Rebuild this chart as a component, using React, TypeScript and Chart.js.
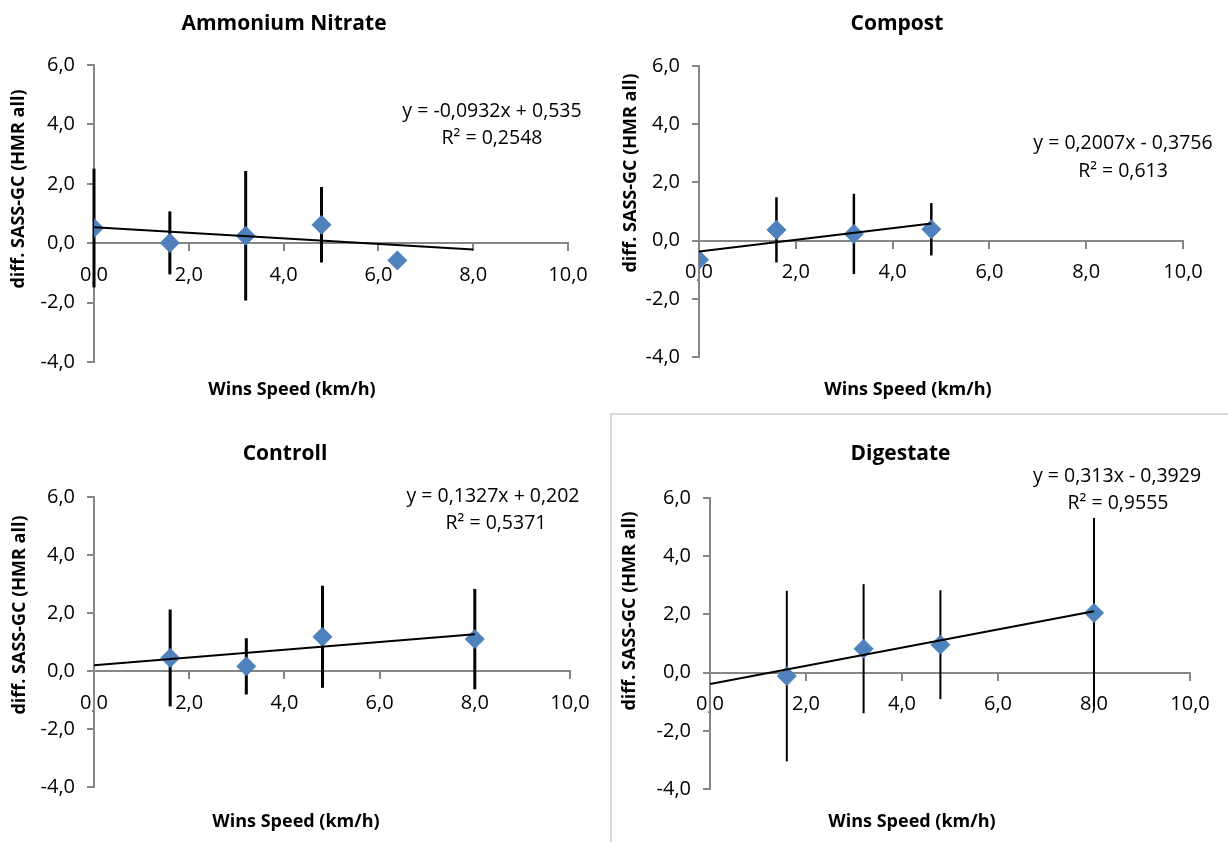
import React, { useEffect, useRef } from 'react';
import { Chart, registerables } from 'chart.js';

Chart.register(...registerables);

const FONT = '"Open Sans", "Noto Sans", sans-serif';

// ---------- data ----------
const panelTitles = ['Ammonium Nitrate', 'Compost', 'Controll', 'Digestate'];
const xAxisTitle = 'Wins Speed (km/h)';
const yAxisTitle = 'diff. SASS-GC (HMR all)';
const xTickValues = [0, 2, 4, 6, 8, 10];
const yTickValues = [-4, -2, 0, 2, 4, 6];

const windAmmonium = [0, 1.6, 3.2, 4.8, 6.4];
const diffAmmonium = [0.51, 0.01, 0.25, 0.62, -0.58];
const errAmmonium = [2.0, 1.06, 2.18, 1.27, 0];

const windCompost = [0, 1.6, 3.2, 4.8];
const diffCompost = [-0.66, 0.37, 0.23, 0.39];
const errCompost = [0, 1.12, 1.38, 0.9];

const windControll = [1.6, 3.2, 4.8, 8.0];
const diffControll = [0.45, 0.16, 1.18, 1.1];
const errControll = [1.67, 0.97, 1.76, 1.73];

const windDigestate = [1.6, 3.2, 4.8, 8.0];
const diffDigestate = [-0.12, 0.82, 0.96, 2.05];
const errDigestate = [2.93, 2.22, 1.87, 3.26];

const trendSlopes = [-0.0932, 0.2007, 0.1327, 0.313];
const trendIntercepts = [0.535, -0.3756, 0.202, -0.3929];
const trendStart = [0, 0, 0, 0];
const trendEnd = [8, 4.8, 8, 8];
const equationLabels = ['y = -0,0932x + 0,535', 'y = 0,2007x - 0,3756', 'y = 0,1327x + 0,202', 'y = 0,313x - 0,3929'];
const r2Labels = ['R² = 0,2548', 'R² = 0,613', 'R² = 0,5371', 'R² = 0,9555'];

const SERIES = [
  { x: windAmmonium, y: diffAmmonium, err: errAmmonium },
  { x: windCompost, y: diffCompost, err: errCompost },
  { x: windControll, y: diffControll, err: errControll },
  { x: windDigestate, y: diffDigestate, err: errDigestate },
];

// ---------- layout (page pixels) ----------
const LAYOUT = [
  { box: [0, 0, 611, 414], area: [94, 568, 65, 362], titleY: 24, yTitle: [18.5, 189], xTitle: [292, 390], eqX: [492, 492], eqY: [117, 144], bar: 3 },
  { box: [611, 0, 617, 414], area: [699, 1183, 66, 357], titleY: 24, yTitle: [631, 173], xTitle: [908, 390], eqX: [1123, 1123], eqY: [149, 177], bar: 2.5 },
  { box: [0, 414, 611, 428], area: [94, 570, 497, 787], titleY: 454, yTitle: [19.5, 615], xTitle: [296, 822], eqX: [493, 496], eqY: [502, 529], bar: 3 },
  { box: [611, 414, 617, 428], area: [710, 1190, 498, 789], titleY: 454, yTitle: [630, 611], xTitle: [912, 822], eqX: [1117, 1118], eqY: [482, 509], bar: 2 },
];

const fmt = (v: any) => Number(v).toFixed(1).replace('.', ',');

function Panel({ idx }: { idx: number }) {
  const ref = useRef<HTMLCanvasElement>(null);
  const L = LAYOUT[idx];
  const [bx, by, bw, bh] = L.box;

  useEffect(() => {
    const [aL, aR, aT, aB] = L.area;
    const s = SERIES[idx];
    const points = s.x.map((x, i) => ({ x, y: s.y[i] }));
    const trend = [trendStart[idx], trendEnd[idx]].map((x) => ({ x, y: trendSlopes[idx] * x + trendIntercepts[idx] }));
    const titleSize = 21;
    const titleLH = titleSize * 1.2;
    const tPadTop = L.titleY - by - titleLH / 2;
    const tPadBottom = aT - by - tPadTop - titleLH;

    const errorBars = {
      id: 'errorBars',
      beforeDatasetsDraw(chart: any) {
        const { ctx, scales } = chart;
        ctx.save();
        ctx.strokeStyle = '#000';
        ctx.lineWidth = L.bar;
        s.x.forEach((x, i) => {
          const e = s.err[i];
          if (!e) return;
          const px = scales.x.getPixelForValue(x);
          ctx.beginPath();
          ctx.moveTo(px, scales.y.getPixelForValue(s.y[i] + e));
          ctx.lineTo(px, scales.y.getPixelForValue(s.y[i] - e));
          ctx.stroke();
        });
        ctx.restore();
      },
    };

    const texts = {
      id: 'panelTexts',
      afterDraw(chart: any) {
        const ctx = chart.ctx;
        ctx.save();
        ctx.fillStyle = '#000';
        ctx.textAlign = 'center';
        ctx.textBaseline = 'middle';
        ctx.font = `bold 18px ${FONT}`;
        ctx.save();
        ctx.translate(L.yTitle[0] - bx, L.yTitle[1] - by);
        ctx.rotate(-Math.PI / 2);
        ctx.fillText(yAxisTitle, 0, 0);
        ctx.restore();
        ctx.fillText(xAxisTitle, L.xTitle[0] - bx, L.xTitle[1] - by);
        ctx.font = `19.5px ${FONT}`;
        ctx.textBaseline = 'alphabetic';
        ctx.fillText(equationLabels[idx], L.eqX[0] - bx, L.eqY[0] - by);
        ctx.fillText(r2Labels[idx], L.eqX[1] - bx, L.eqY[1] - by);
        ctx.restore();
      },
    };

    const tickFont = { family: FONT, size: 20 };
    const chart = new Chart(ref.current as HTMLCanvasElement, {
      type: 'scatter',
      data: {
        datasets: [
          {
            type: 'line',
            data: trend,
            borderColor: '#000',
            borderWidth: 2,
            pointRadius: 0,
            fill: false,
            order: 0,
          } as any,
          {
            data: points,
            pointStyle: 'rectRot',
            pointRadius: 9.5,
            pointHoverRadius: 9.5,
            backgroundColor: '#4F81BD',
            borderColor: '#4A7EBB',
            borderWidth: 1,
            order: 1,
          } as any,
        ],
      },
      options: {
        responsive: false,
        animation: false,
        events: [],
        layout: { padding: { left: 0, top: 0, right: bx + bw - aR, bottom: by + bh - aB } },
        plugins: {
          legend: { display: false },
          tooltip: { enabled: false },
          title: {
            display: true,
            text: panelTitles[idx],
            color: '#000',
            font: { family: FONT, size: titleSize, weight: 'bold' },
            padding: { top: tPadTop, bottom: tPadBottom },
          },
        },
        scales: {
          x: {
            type: 'linear',
            min: 0,
            max: 10,
            position: { y: 0 } as any,
            afterBuildTicks: (sc: any) => {
              sc.ticks = xTickValues.map((v) => ({ value: v }));
            },
            ticks: { callback: fmt, color: '#000', font: tickFont, padding: 13, maxRotation: 0, autoSkip: false },
            grid: { display: true, drawOnChartArea: false, drawTicks: true, tickLength: 7, color: '#868686', lineWidth: 2 },
            border: { display: true, color: '#868686', width: 2 },
          },
          y: {
            type: 'linear',
            min: -4,
            max: 6,
            position: 'left',
            afterBuildTicks: (sc: any) => {
              sc.ticks = yTickValues.map((v) => ({ value: v }));
            },
            afterFit: (sc: any) => {
              sc.width = aL - bx;
            },
            ticks: { callback: fmt, color: '#000', font: tickFont, padding: 12, autoSkip: false },
            grid: { display: true, drawOnChartArea: false, drawTicks: true, tickLength: 7, color: '#868686', lineWidth: 2 },
            border: { display: true, color: '#868686', width: 2 },
          },
        },
      } as any,
      plugins: [errorBars, texts],
    });
    return () => chart.destroy();
  }, [idx]);

  return (
    <canvas
      ref={ref}
      width={bw}
      height={bh}
      style={{ position: 'absolute', left: bx, top: by, width: bw, height: bh, display: 'block' }}
    />
  );
}

export default function App() {
  return (
    <div style={{ position: 'absolute', left: 0, top: 0, width: 1228, height: 842, overflow: 'hidden', background: '#fff' }}>
      <div
        style={{
          position: 'absolute',
          left: 610,
          top: 413,
          width: 700,
          height: 500,
          border: '2px solid #d9d9d9',
          boxSizing: 'border-box',
        }}
      />
      {LAYOUT.map((_, i) => (
        <Panel key={i} idx={i} />
      ))}
    </div>
  );
}
